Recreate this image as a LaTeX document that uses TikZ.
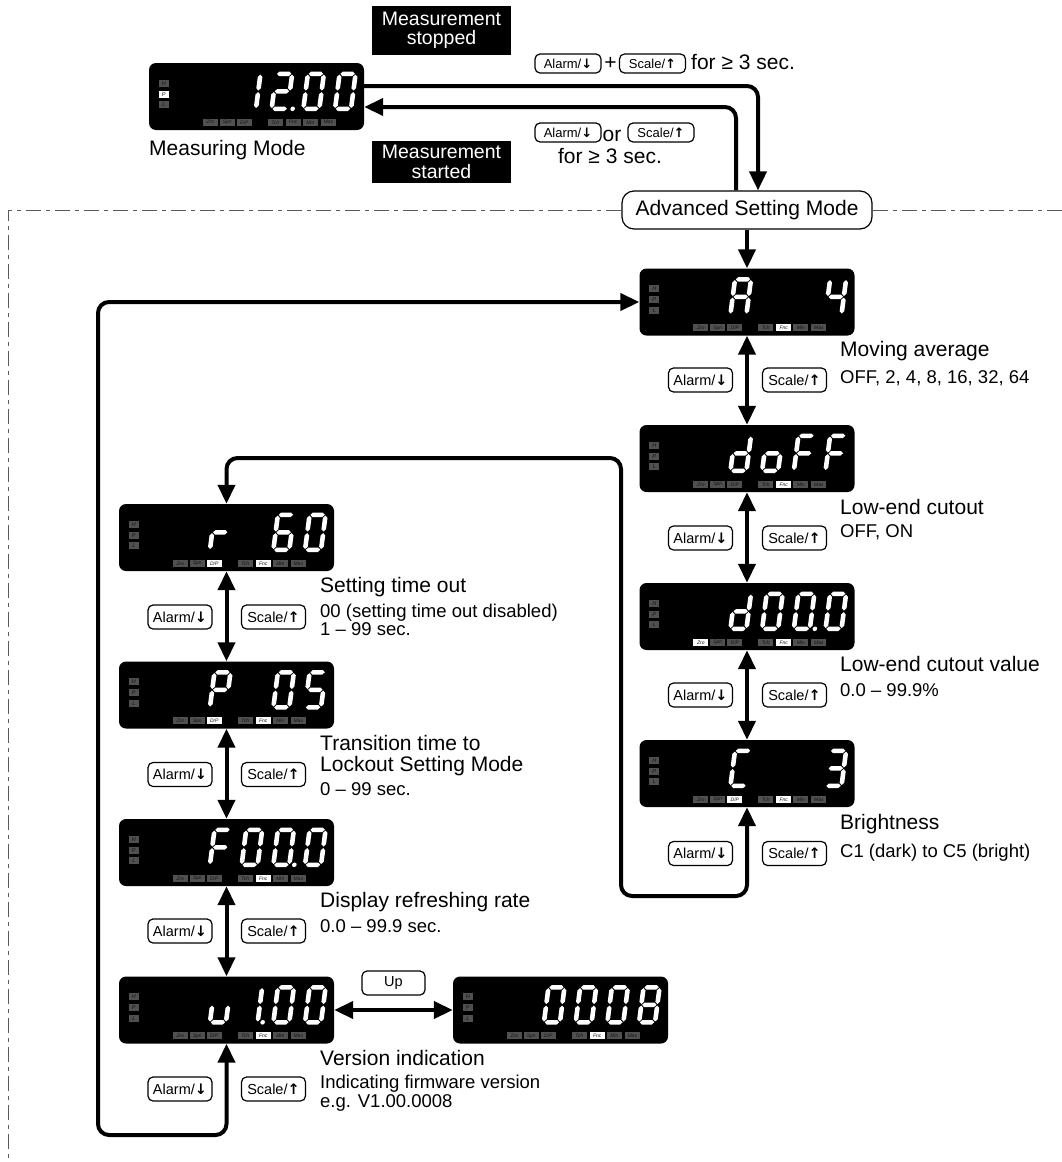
\documentclass[tikz,border=0pt]{standalone}
\usepackage{fontspec}
\setmainfont{Liberation Sans}
\newfontfamily\arrowfont{DejaVu Sans}
\usetikzlibrary{arrows.meta}
\definecolor{ledoff}{RGB}{80,80,80}
\definecolor{ledtext}{RGB}{20,20,20}
\definecolor{framegray}{RGB}{90,90,90}

\newcommand{\keydown}{{\arrowfont\bfseries ↓}}
\newcommand{\keyup}{{\arrowfont\bfseries ↑}}

\newcommand{\hseg}[2]{({#1+0.8},#2) -- ++(2.3,-2.3) -- ++(9.8,0) -- ++(2.3,2.3) -- ++(-2.3,2.3) -- ++(-9.8,0) -- cycle}
\newcommand{\vseg}[2]{(#1,{#2+0.8}) -- ++(2.3,2.3) -- ++(0,11.3) -- ++(-2.3,2.3) -- ++(-2.3,-2.3) -- ++(0,-11.3) -- cycle}
\def\sega{\hseg{0}{0}}
\def\segb{\vseg{16}{0}}
\def\segc{\vseg{16}{17.5}}
\def\segd{\hseg{0}{35}}
\def\sege{\vseg{0}{17.5}}
\def\segf{\vseg{0}{0}}
\def\segg{\hseg{0}{17.5}}

\newcommand{\lcddigit}[3]{%
  \begin{scope}[shift={({95.7+31.7*(#1-1)},11)}, xslant=0.13]
    \foreach \sg in {#2} {\edef\segpath{\csname seg\sg\endcsname}\fill[white] \segpath;}
    \ifnum#3=1 \fill[white] (21,35) circle (2.3pt);\fi
  \end{scope}}

\newcommand{\lcdpanel}[5]{%
  \node[disp] (#1) at (#2) {};
  \begin{scope}[shift={(#1.north west)}]
    \foreach \n/\y [count=\i] in {H/20.5,P/31.5,L/42} {
      \pgfmathtruncatemacro\lit{{#3}[\i-1]}
      \ifnum\lit=1 \def\ledfill{white}\else\def\ledfill{ledoff}\fi
      \node[hpl, fill=\ledfill] (#1-\n) at (15,\y) {\n};
    }
    \foreach \n/\x [count=\i] in {Zro/61.5,Spn/78.5,{D/P}/95.5,Tch/126.5,Fnc/144.5,Min/161.5,Max/179.5} {
      \pgfmathtruncatemacro\lit{{#4}[\i-1]}
      \ifnum\lit=1 \def\ledfill{white}\else\def\ledfill{ledoff}\fi
      \node[flag, fill=\ledfill] (#1-b\i) at (\x,59.5) {\n};
    }
    #5
  \end{scope}}

\begin{document}
\begin{tikzpicture}[
  x=1pt, y=-1pt,
  disp/.style={fill=black, rounded corners=7pt, minimum width=215pt, minimum height=67pt, inner sep=0pt},
  hpl/.style={minimum width=10pt, minimum height=7pt, inner sep=0pt, text=ledtext, font=\fontsize{5.5}{5.5}\selectfont\itshape},
  flag/.style={minimum width=15pt, minimum height=7pt, inner sep=0pt, text=ledtext, font=\fontsize{5}{5}\selectfont\itshape},
  key/.style={draw, line width=1.2pt, rounded corners=5pt, minimum width=64pt, minimum height=24pt, inner sep=0pt, font=\fontsize{14.5}{14.5}\selectfont},
  smallkey/.style={key, minimum width=66pt, minimum height=19pt, font=\fontsize{13}{13}\selectfont},
  tag/.style={fill=black, text=white, align=center, inner sep=0pt, minimum width=139pt, font=\fontsize{19.5}{19.5}\selectfont},
  mode/.style={draw, line width=1.2pt, rounded corners=12pt, fill=white, minimum width=250pt, minimum height=38pt, font=\fontsize{21}{21}\selectfont},
  title/.style={anchor=base west, inner sep=0pt, font=\fontsize{21}{21}\selectfont},
  note/.style={anchor=base west, inner sep=0pt, font=\fontsize{18.5}{18.5}\selectfont},
  link/.style={line width=4pt, rounded corners=11pt, >={Triangle[length=19pt,width=17pt]}},
  boundary/.style={draw=framegray, line width=1pt, dash pattern=on 15pt off 5pt on 4pt off 5pt}
]
\useasboundingbox (0,0) rectangle (1062,1162);

\coordinate (fb) at (8,1162);
\coordinate (fr) at (1062,210);
\coordinate (inA) at (621,896);
\coordinate (inB) at (621,458);
\coordinate (outA) at (98,1135);

\node[mode] (asm) at (747,210) {Advanced Setting Mode};
\draw[boundary] (asm.west) -| (fb);
\draw[boundary] (asm.east) -- (fr);

\lcdpanel{m}{256.5,96.5}{0,1,0}{0,0,0,0,0,0,0}{\lcddigit{1}{b,c}{0}\lcddigit{2}{a,b,g,e,d}{1}\lcddigit{3}{a,b,c,d,e,f}{0}\lcddigit{4}{a,b,c,d,e,f}{0}}
\lcdpanel{avg}{747,302}{0,0,0}{0,0,0,0,1,0,0}{\lcddigit{1}{a,b,c,e,f,g}{0}\lcddigit{4}{b,c,f,g}{0}}
\lcdpanel{doff}{747,458.5}{0,0,0}{0,0,0,0,1,0,0}{\lcddigit{1}{b,c,d,e,g}{0}\lcddigit{2}{c,d,e,g}{0}\lcddigit{3}{a,e,f,g}{0}\lcddigit{4}{a,e,f,g}{0}}
\lcdpanel{cutv}{747,616.5}{0,0,0}{1,0,0,0,1,0,0}{\lcddigit{1}{b,c,d,e,g}{0}\lcddigit{2}{a,b,c,d,e,f}{0}\lcddigit{3}{a,b,c,d,e,f}{1}\lcddigit{4}{a,b,c,d,e,f}{0}}
\lcdpanel{bri}{747,773.5}{0,0,0}{0,0,1,0,1,0,0}{\lcddigit{1}{a,d,e,f}{0}\lcddigit{4}{a,b,c,d,g}{0}}
\lcdpanel{tout}{226.5,537.5}{0,0,0}{0,0,1,0,1,0,0}{\lcddigit{1}{e,g}{0}\lcddigit{3}{a,c,d,e,f,g}{0}\lcddigit{4}{a,b,c,d,e,f}{0}}
\lcdpanel{lock}{226.5,695}{0,0,0}{0,0,1,0,1,0,0}{\lcddigit{1}{a,b,e,f,g}{0}\lcddigit{3}{a,b,c,d,e,f}{0}\lcddigit{4}{a,c,d,f,g}{0}}
\lcdpanel{rate}{226.5,852.5}{0,0,0}{0,0,0,0,1,0,0}{\lcddigit{1}{a,e,f,g}{0}\lcddigit{2}{a,b,c,d,e,f}{0}\lcddigit{3}{a,b,c,d,e,f}{1}\lcddigit{4}{a,b,c,d,e,f}{0}}
\lcdpanel{vers}{226.5,1010}{0,0,0}{0,0,0,0,1,0,0}{\lcddigit{1}{c,d,e}{0}\lcddigit{2}{b,c}{1}\lcddigit{3}{a,b,c,d,e,f}{0}\lcddigit{4}{a,b,c,d,e,f}{0}}
\lcdpanel{fw}{560.5,1010}{0,0,0}{0,0,0,0,1,0,0}{\lcddigit{1}{a,b,c,d,e,f}{0}\lcddigit{2}{a,b,c,d,e,f}{0}\lcddigit{3}{a,b,c,d,e,f}{0}\lcddigit{4}{a,b,c,d,e,f,g}{0}}

\node[title] (mlab) at (149,155) {Measuring Mode};
\node[tag, minimum height=49pt] (stop) at (441.5,30.5) {Measurement\\stopped};
\node[tag, minimum height=42pt] (start) at (441.5,162) {Measurement\\started};
\node[smallkey] (ka1) at (568,63.5) {Alarm/\keydown};
\node[title, anchor=center] (plus) at (610.5,63.5) {+};
\node[smallkey] (ks1) at (652.5,63.5) {Scale/\keyup};
\node[title] (hold1) at (691,69.3) {for ≥ 3 sec.};
\node[smallkey] (ka2) at (568,132.5) {Alarm/\keydown};
\node[title, anchor=base] (or) at (612,141.7) {or};
\node[smallkey] (ks2) at (661,132.5) {Scale/\keyup};
\node[title, anchor=base] (hold2) at (610,163.3) {for ≥ 3 sec.};

\node[key] (ka3) at (700.5,380) {Alarm/\keydown};
\node[key] (ks3) at (794.5,380) {Scale/\keyup};
\node[key] (ka4) at (700.5,538) {Alarm/\keydown};
\node[key] (ks4) at (794.5,538) {Scale/\keyup};
\node[key] (ka5) at (700.5,695) {Alarm/\keydown};
\node[key] (ks5) at (794.5,695) {Scale/\keyup};
\node[key] (ka6) at (700.5,853.5) {Alarm/\keydown};
\node[key] (ks6) at (794.5,853.5) {Scale/\keyup};
\node[key] (ka7) at (180,617) {Alarm/\keydown};
\node[key] (ks7) at (273.5,617) {Scale/\keyup};
\node[key] (ka8) at (180,774.5) {Alarm/\keydown};
\node[key] (ks8) at (273.5,774.5) {Scale/\keyup};
\node[key] (ka9) at (180,931) {Alarm/\keydown};
\node[key] (ks9) at (273.5,931) {Scale/\keyup};
\node[key] (ka10) at (180,1089) {Alarm/\keydown};
\node[key] (ks10) at (273.5,1089) {Scale/\keyup};
\node[key, minimum width=63pt] (upkey) at (393.5,983) {Up};

\node[title] (avgt) at (840,356.7) {Moving average};
\node[note] (avgn) at (840,383) {OFF, 2, 4, 8, 16, 32, 64};
\node[title] (doffT) at (840,514) {Low-end cutout};
\node[note] (doffn) at (840,537.7) {OFF, ON};
\node[title] (cutvt) at (840,671) {Low-end cutout value};
\node[note] (cutvn) at (840,696.7) {0.0 – 99.9\%};
\node[title] (brit) at (840,829) {Brightness};
\node[note] (brin) at (840,857) {C1 (dark) to C5 (bright)};
\node[title] (toutt) at (320,592.7) {Setting time out};
\node[note] (toutn) at (320,617.7) {00 (setting time out disabled)};
\node[note] (toutm) at (320,635) {1 – 99 sec.};
\node[title] (lockt) at (320,750) {Transition time to};
\node[title] (locku) at (320,771.7) {Lockout Setting Mode};
\node[note] (lockn) at (320,795) {0 – 99 sec.};
\node[title] (ratet) at (320,907.7) {Display refreshing rate};
\node[note] (raten) at (320,932.3) {0.0 – 99.9 sec.};
\node[title] (verst) at (320,1065) {Version indication};
\node[note] (versn) at (320,1088.3) {Indicating firmware version};
\node[note] (versm) at (320,1107.7) {e.g. V1.00.0008};

\draw[link,->] ([yshift=10.5pt]m.east) -| ([xshift=11pt]asm.north);
\draw[link,->] ([xshift=-11pt]asm.north) |- ([yshift=-10.5pt]m.east);
\draw[link,->] (asm) -- (avg);
\draw[link,<->] (avg) -- (doff);
\draw[link,<->] (doff) -- (cutv);
\draw[link,<->] (cutv) -- (bri);
\draw[link,<->] (tout) -- (lock);
\draw[link,<->] (lock) -- (rate);
\draw[link,<->] (rate) -- (vers);
\draw[link,<->] (vers) -- (fw);
\draw[link,<->] (bri.south) |- (inA) -- (inB) -| (tout.north);
\draw[link,<->] (vers.south) |- (outA) |- (avg.west);
\end{tikzpicture}
\end{document}
